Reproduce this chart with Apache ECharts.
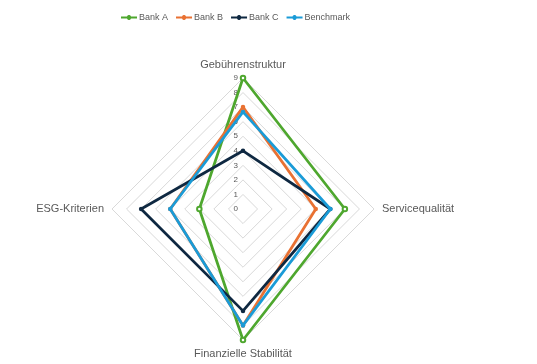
<!DOCTYPE html>
<html>
<head>
<meta charset="utf-8">
<script src="https://cdn.jsdelivr.net/npm/echarts@6/dist/echarts.min.js"></script>
<style>html,body{margin:0;padding:0;background:#fff}#c{width:537px;height:364px}</style>
</head>
<body>
<div id="c"></div>
<script>
// Indicators in display order (top, left, bottom, right as laid out counter-clockwise)
const categories = ['Gebührenstruktur', 'ESG-Kriterien', 'Finanzielle Stabilität', 'Servicequalität'];
const maxValue = 9;
const tickLabels = ['0','1','2','3','4','5','6','7','8','9'];
const bankA = [9, 3, 9, 7];
const bankB = [7, 5, 8, 5];
const bankC = [4, 7, 7, 6];
const benchmark = [6.67, 5, 8, 6];

const seriesNames = ['Bank A', 'Bank B', 'Bank C', 'Benchmark'];
const seriesValues = [bankA, bankB, bankC, benchmark];
const lineColors = ['#4EA72E', '#E97132', '#0E2841', '#1A9BD7'];
const symbols = ['emptyCircle', 'circle', 'circle', 'circle'];

const legendIcon = 'path://M0,1.6H6L6.6,0.6L7.5,0H8.5L9.4,0.6L10,1.6H16V3.4H10L9.4,4.4L8.5,5H7.5L6.6,4.4L6,3.4H0Z';

const chart = echarts.init(document.getElementById('c'), null, {renderer: 'canvas'});
const font = '"Liberation Sans", Arial, sans-serif';

chart.setOption({
  animation: false,
  backgroundColor: '#fff',
  textStyle: {fontFamily: font},
  legend: {
    top: 8, left: 116,
    itemWidth: 16, itemHeight: 5, itemGap: 8,
    icon: legendIcon,
    textStyle: {color: '#595959', fontSize: 9, fontFamily: font, padding: [0, 0, 0, -3]},
    data: seriesNames
  },
  radar: {
    center: [243, 209],
    radius: 131,
    startAngle: 90,
    shape: 'polygon',
    splitNumber: maxValue,
    indicator: categories.map(c => ({name: c, min: 0, max: maxValue})),
    axisName: {color: '#595959', fontSize: 11, fontFamily: font},
    nameGap: 8,
    axisLine: {show: false},
    axisTick: {show: false},
    axisLabel: {show: false},
    splitLine: {lineStyle: {color: '#D9D9D9', width: 1}},
    splitArea: {show: false}
  },
  polar: {center: [243, 209], radius: 131},
  angleAxis: {show: false, startAngle: 90, min: 0, max: 360},
  radiusAxis: {
    min: 0, max: maxValue, interval: 1,
    axisLine: {show: false}, axisTick: {show: false}, splitLine: {show: false},
    axisLabel: {
      color: '#595959', fontSize: 8, margin: 5, fontFamily: font,
      formatter: (v) => tickLabels[Math.round(v)] ?? ''
    }
  },
  series: seriesNames.map((n, i) => ({
    type: 'radar',
    name: n,
    z: 2 + i,
    symbol: symbols[i],
    symbolSize: 4.5,
    lineStyle: {color: lineColors[i], width: 2.75},
    itemStyle: {color: lineColors[i]},
    data: [{name: n, value: seriesValues[i]}]
  }))
});
</script>
</body>
</html>
